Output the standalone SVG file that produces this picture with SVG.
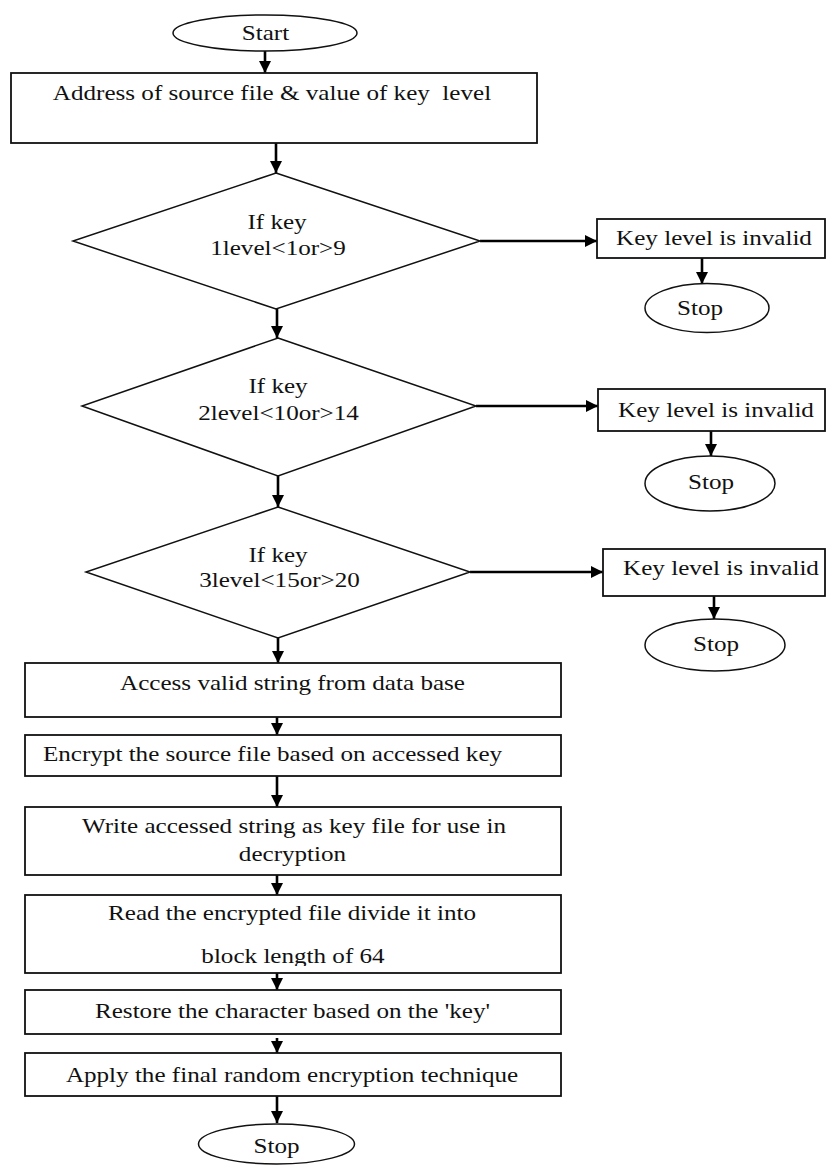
<svg xmlns="http://www.w3.org/2000/svg" width="827" height="1167" viewBox="0 0 827 1167">
<style>
.s{fill:#fff;stroke:#111;stroke-width:1.8}
.d{fill:#fff;stroke:#111;stroke-width:1.5}
.c{stroke:#000;stroke-width:2.6;fill:none}
.t{font-family:"Liberation Serif","Times New Roman",serif;font-size:20px;fill:#111;text-anchor:middle}
</style>
<defs>
<marker id="ah" markerUnits="userSpaceOnUse" markerWidth="13" markerHeight="12" refX="12" refY="6" orient="auto">
<path d="M0,0 L12,6 L0,12 Z" fill="#000"/>
</marker>
<clipPath id="clipD"><rect x="25" y="895" width="536" height="71"/></clipPath>
</defs>
<rect width="827" height="1167" fill="#fff"/>
<g id="connectors">
<line class="c" x1="265" y1="51" x2="265" y2="73" marker-end="url(#ah)"/>
<line class="c" x1="276" y1="143" x2="276" y2="173" marker-end="url(#ah)"/>
<line class="c" x1="480" y1="241" x2="597" y2="241" marker-end="url(#ah)"/>
<line class="c" x1="702" y1="258" x2="702" y2="284" marker-end="url(#ah)"/>
<line class="c" x1="277" y1="309" x2="277" y2="338" marker-end="url(#ah)"/>
<line class="c" x1="476" y1="406" x2="598" y2="406" marker-end="url(#ah)"/>
<line class="c" x1="711" y1="431" x2="711" y2="456" marker-end="url(#ah)"/>
<line class="c" x1="278" y1="476" x2="278" y2="507" marker-end="url(#ah)"/>
<line class="c" x1="470" y1="572" x2="603" y2="572" marker-end="url(#ah)"/>
<line class="c" x1="714" y1="596" x2="714" y2="619" marker-end="url(#ah)"/>
<line class="c" x1="278" y1="638" x2="278" y2="663" marker-end="url(#ah)"/>
<line class="c" x1="277" y1="717" x2="277" y2="735" marker-end="url(#ah)"/>
<line class="c" x1="277" y1="776" x2="277" y2="807" marker-end="url(#ah)"/>
<line class="c" x1="277" y1="875" x2="277" y2="895" marker-end="url(#ah)"/>
<line class="c" x1="277" y1="973" x2="277" y2="990" marker-end="url(#ah)"/>
<line class="c" x1="277" y1="1038" x2="277" y2="1053" marker-end="url(#ah)"/>
<line class="c" x1="277" y1="1096" x2="277" y2="1123" marker-end="url(#ah)"/>
</g>
<g id="start">
<ellipse class="d" cx="265" cy="33" rx="92" ry="18"/>
<text class="t" transform="translate(265.5,40) scale(1.255,1)">Start</text>
</g>
<g id="input">
<rect class="s" x="11" y="73" width="526" height="70"/>
<text class="t" transform="translate(272,100) scale(1.255,1)" xml:space="preserve">Address of source file &amp; value of key  level</text>
</g>
<g id="check1">
<polygon class="d" points="276,173 480,241 276,309 73,241"/>
<text class="t" transform="translate(277,229) scale(1.255,1)">If key</text>
<text class="t" transform="translate(278,255) scale(1.255,1)">1level&lt;1or&gt;9</text>
</g>
<g id="invalid1">
<rect class="s" x="597" y="219" width="228" height="39"/>
<text class="t" transform="translate(714,245) scale(1.255,1)">Key level is invalid</text>
</g>
<g id="stop1">
<ellipse class="d" cx="707" cy="308" rx="62" ry="24.5"/>
<text class="t" transform="translate(700,315) scale(1.255,1)">Stop</text>
</g>
<g id="check2">
<polygon class="d" points="278,338 476,406 278,476 82,406"/>
<text class="t" transform="translate(278,393) scale(1.255,1)">If key</text>
<text class="t" transform="translate(278.5,420) scale(1.255,1)">2level&lt;10or&gt;14</text>
</g>
<g id="invalid2">
<rect class="s" x="598" y="389" width="227" height="42"/>
<text class="t" transform="translate(716,417) scale(1.255,1)">Key level is invalid</text>
</g>
<g id="stop2">
<ellipse class="d" cx="710" cy="483.5" rx="65" ry="27.5"/>
<text class="t" transform="translate(711,489) scale(1.255,1)">Stop</text>
</g>
<g id="check3">
<polygon class="d" points="278,507 470,572 278,638 86,572"/>
<text class="t" transform="translate(278,562) scale(1.255,1)">If key</text>
<text class="t" transform="translate(279.5,587) scale(1.255,1)">3level&lt;15or&gt;20</text>
</g>
<g id="invalid3">
<rect class="s" x="603" y="549" width="222" height="47"/>
<text class="t" transform="translate(721,575) scale(1.255,1)">Key level is invalid</text>
</g>
<g id="stop3">
<ellipse class="d" cx="715" cy="645" rx="70" ry="26"/>
<text class="t" transform="translate(716,651) scale(1.255,1)">Stop</text>
</g>
<g id="access">
<rect class="s" x="25" y="663" width="536" height="54"/>
<text class="t" transform="translate(292.5,690) scale(1.255,1)">Access valid string from data base</text>
</g>
<g id="encrypt">
<rect class="s" x="25" y="735" width="536" height="41"/>
<text class="t" transform="translate(272.5,761) scale(1.255,1)">Encrypt the source file based on accessed key</text>
</g>
<g id="write">
<rect class="s" x="25" y="807" width="536" height="68"/>
<text class="t" transform="translate(294,833) scale(1.255,1)">Write accessed string as key file for use in</text>
<text class="t" transform="translate(292.5,861) scale(1.255,1)">decryption</text>
</g>
<g id="read">
<rect class="s" x="25" y="895" width="536" height="78"/>
<text class="t" transform="translate(292,920) scale(1.255,1)">Read the encrypted file divide it into</text>
<g clip-path="url(#clipD)">
<text class="t" transform="translate(293,963) scale(1.255,1)">block length of 64</text>
</g>
</g>
<g id="restore">
<rect class="s" x="25" y="990" width="536" height="44"/>
<text class="t" transform="translate(292.5,1018) scale(1.255,1)">Restore the character based on the 'key'</text>
</g>
<g id="apply">
<rect class="s" x="25" y="1053" width="536" height="43"/>
<text class="t" transform="translate(292,1082) scale(1.255,1)">Apply the final random encryption technique</text>
</g>
<g id="stop4">
<ellipse class="d" cx="276.5" cy="1144" rx="78" ry="20"/>
<text class="t" transform="translate(276.5,1153) scale(1.255,1)">Stop</text>
</g>
</svg>
